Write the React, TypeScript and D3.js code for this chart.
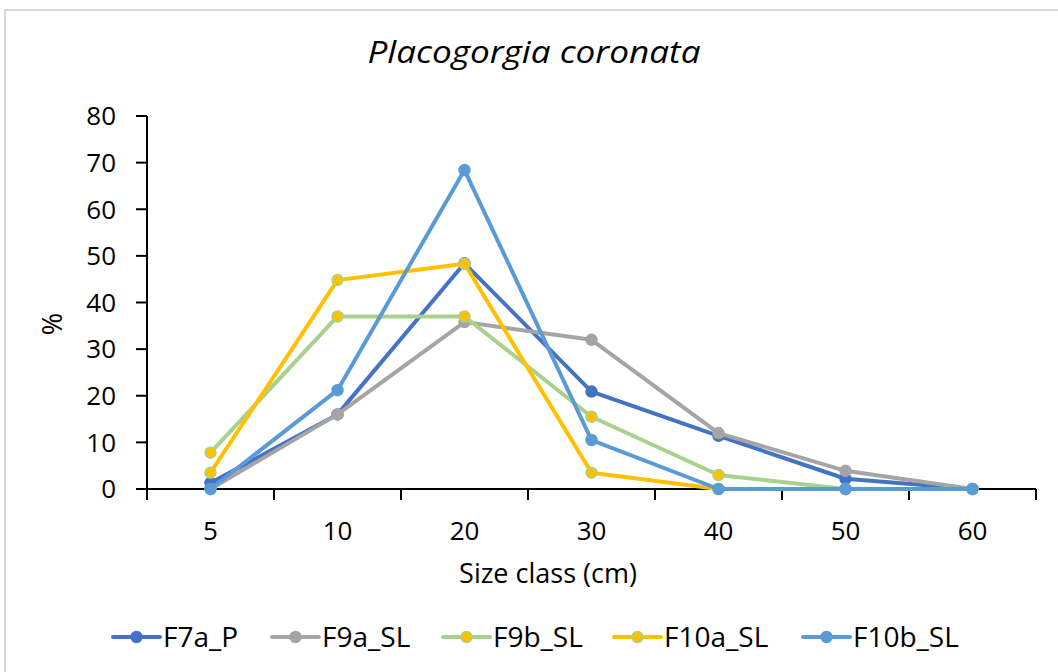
import React from "react";
import * as d3 from "d3";

const categories = ["5", "10", "20", "30", "40", "50", "60"];
const F7a_P = [1.3, 16, 48.4, 20.9, 11.4, 2.2, 0];
const F9a_SL = [0, 16, 35.8, 32, 12, 3.9, 0];
const F9b_SL = [7.8, 37, 37, 15.5, 3, 0, 0];
const F10a_SL = [3.5, 44.8, 48.3, 3.5, 0, 0, 0];
const F10b_SL = [0, 21.2, 68.4, 10.5, 0, 0, 0];
const yTicks = [0, 10, 20, 30, 40, 50, 60, 70, 80];

const seriesNames = ["F7a_P", "F9a_SL", "F9b_SL", "F10a_SL", "F10b_SL"];
const seriesValues = [F7a_P, F9a_SL, F9b_SL, F10a_SL, F10b_SL];
const lineColors = ["#4472C4", "#A5A5A5", "#A9D18E", "#FFC000", "#5B9BD5"];
const markerFill = ["#4472C4", "#A5A5A5", "#FFC000", "#FFC000", "#5B9BD5"];
const markerStroke = ["#4472C4", "#A5A5A5", "#A9D18E", "#A9D18E", "#5B9BD5"];
const legendX = [113, 272, 443, 614, 803];

const FONT = "'Open Sans', sans-serif";

export default function App() {
  const x = d3.scaleBand<string>().domain(categories).range([147, 1036]);
  const y = d3.scaleLinear().domain([0, 80]).range([489, 116]);
  const line = d3
    .line<number>()
    .x((_, i) => (x(categories[i]) as number) + x.bandwidth() / 2)
    .y((d) => y(d));
  const boundaries = categories.map((c) => x(c) as number).concat([x.range()[1]]);

  return (
    <svg
      width={1058}
      height={672}
      style={{ position: "absolute", left: 0, top: 0, background: "#fff" }}
      fontFamily={FONT}
    >
      <rect x={5} y={10} width={1100} height={700} fill="#fff" stroke="#D9D9D9" strokeWidth={2} />
      <text
        x={534}
        y={63}
        textAnchor="middle"
        fontSize={31}
        fontStyle="italic"
        fill="#000"
        textLength={333}
        lengthAdjust="spacingAndGlyphs"
      >
        Placogorgia coronata
      </text>

      {/* y axis */}
      <line x1={147} x2={147} y1={y(80)} y2={y(0)} stroke="#000" strokeWidth={2} />
      {yTicks.map((t) => (
        <g key={t}>
          <line x1={136} x2={147} y1={y(t)} y2={y(t)} stroke="#000" strokeWidth={2} />
          <text x={116} y={y(t)} dy="0.36em" textAnchor="end" fontSize={26} fill="#000">
            {t}
          </text>
        </g>
      ))}
      {/* x axis */}
      <line x1={147} x2={1036} y1={y(0)} y2={y(0)} stroke="#000" strokeWidth={2} />
      {boundaries.map((b, i) => (
        <line key={i} x1={b} x2={b} y1={y(0)} y2={y(0) + 11} stroke="#000" strokeWidth={2} />
      ))}
      {categories.map((c) => (
        <text
          key={c}
          x={(x(c) as number) + x.bandwidth() / 2}
          y={540}
          textAnchor="middle"
          fontSize={26}
          fill="#000"
        >
          {c}
        </text>
      ))}
      <text x={548} y={583} textAnchor="middle" fontSize={27} fill="#000">
        Size class (cm)
      </text>
      <text
        transform="translate(62,324) rotate(-90)"
        textAnchor="middle"
        fontSize={27}
        fill="#000"
      >
        %
      </text>

      {/* series */}
      {seriesValues.map((vals, si) => (
        <g key={seriesNames[si]}>
          <path
            d={line(vals) || ""}
            fill="none"
            stroke={lineColors[si]}
            strokeWidth={4}
            strokeLinejoin="round"
            strokeLinecap="round"
          />
          {vals.map((v, i) => (
            <circle
              key={i}
              cx={(x(categories[i]) as number) + x.bandwidth() / 2}
              cy={y(v)}
              r={5.5}
              fill={markerFill[si]}
              stroke={markerStroke[si]}
              strokeWidth={1.5}
            />
          ))}
        </g>
      ))}

      {/* legend */}
      {seriesNames.map((n, si) => (
        <g key={n}>
          <line
            x1={legendX[si]}
            x2={legendX[si] + 47}
            y1={637}
            y2={637}
            stroke={lineColors[si]}
            strokeWidth={4}
            strokeLinecap="round"
          />
          <circle
            cx={legendX[si] + 23.5}
            cy={637}
            r={5.5}
            fill={markerFill[si]}
            stroke={markerStroke[si]}
            strokeWidth={1.5}
          />
          <text x={legendX[si] + 50} y={637} dy="0.36em" fontSize={28} fill="#000">
            {n}
          </text>
        </g>
      ))}
    </svg>
  );
}
